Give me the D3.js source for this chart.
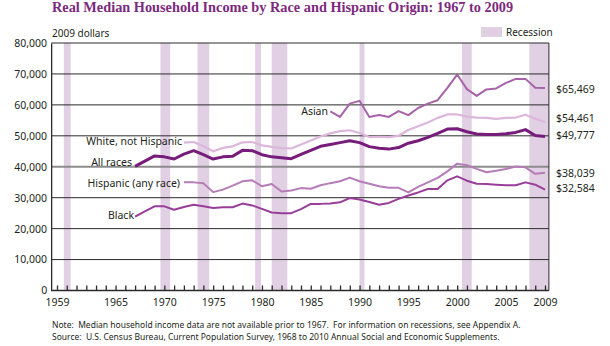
<!DOCTYPE html>
<html>
<head>
<meta charset="utf-8">
<script src="https://cdn.jsdelivr.net/npm/d3@7"></script>
<style>
  body { margin: 0; background: #fff; }
  text { font-family: "Noto Sans", "Open Sans", sans-serif; fill: #231f20; }
</style>
</head>
<body>
<div id="chart"></div>
<script>
// Chart size
var svgWidth = 610;
var svgHeight = 346;

// Values (2009 dollars)
var allRacesYears = d3.range(1967, 2010);
var allRaces = [40100, 41800, 43500, 43200, 42500, 44100, 45200, 43900, 42500, 43200,
  43400, 45300, 45200, 43900, 43200, 42900, 42600, 44000, 45300, 46600,
  47200, 47800, 48400, 47800, 46500, 46000, 45700, 46200, 47600, 48400,
  49500, 50800, 52200, 52300, 51300, 50600, 50400, 50400, 50700, 51100,
  52000, 50100, 49777];

var blackYears = d3.range(1967, 2010);
var black = [23900, 25600, 27200, 27200, 26100, 27000, 27700, 27200, 26700, 26900,
  26900, 28100, 27500, 26400, 25200, 25000, 25000, 26300, 28000, 28000,
  28100, 28500, 29900, 29400, 28600, 27700, 28300, 29600, 30700, 31700,
  32800, 32800, 35600, 36900, 35500, 34500, 34400, 34200, 34000, 34000,
  34950, 34200, 32584];

var whiteYears = d3.range(1972, 2010);
var white = [47800, 48000, 46600, 45000, 46100, 46600, 47900, 48000, 46900, 46400,
  46000, 45900, 47200, 48500, 49800, 50800, 51500, 51800, 50900, 49600,
  49700, 49600, 50000, 51900, 53100, 54300, 55800, 56900, 56900, 56200,
  55900, 55800, 55500, 55800, 55900, 56800, 55500, 54461];

var hispanicYears = d3.range(1972, 2010);
var hispanic = [34950, 34950, 34700, 31800, 32600, 33900, 35300, 35600, 33700, 34400,
  32000, 32300, 33100, 32900, 34000, 34700, 35300, 36500, 35300, 34500,
  33700, 33200, 33200, 31700, 33500, 34950, 36400, 38500, 41000, 40500,
  39300, 38200, 38700, 39300, 40100, 39800, 37700, 38039];

var asianYears = d3.range(1987, 2010);
var asian = [57900, 56100, 60400, 61300, 56100, 56700, 56100, 58000, 56700, 59000,
  60400, 61500, 65500, 69800, 65100, 62900, 65000, 65300, 67100, 68400,
  68400, 65500, 65469];

// Recession periods as drawn (start, end in years)
var recessions = [[1959.7, 1960.4], [1969.6, 1970.6], [1973.4, 1974.6], [1979.3, 1979.9],
  [1981.0, 1982.6], [1990.0, 1990.5], [2000.5, 2001.5], [2007.4, 2009.4]];

var yTicks = [0, 10000, 20000, 30000, 40000, 50000, 60000, 70000, 80000];
var xLabels = [1959, 1965, 1970, 1975, 1980, 1985, 1990, 1995, 2000, 2005, 2009];
var endLabels = ["$65,469", "$54,461", "$49,777", "$38,039", "$32,584"];

var svg = d3.select("#chart")
  .append("svg")
  .attr("width", svgWidth)
  .attr("height", svgHeight);

// Scales
var x = d3.scaleLinear().domain([1959, 2009]).range([57, 545]);
var y = d3.scaleLinear().domain([0, 80000]).range([290.5, 43]);
var left = x(1958.4), right = x(2009.4);

// Title
svg.append("text")
  .attr("x", 52).attr("y", 12)
  .style("font-family", "'Liberation Serif', serif")
  .style("font-weight", "bold")
  .style("font-size", "14.3px")
  .style("fill", "#7b2a7d")
  .text("Real Median Household Income by Race and Hispanic Origin: 1967 to 2009");

svg.append("text")
  .attr("x", 52).attr("y", 37)
  .style("font-size", "10px")
  .text("2009 dollars");

// Recession legend
svg.append("rect")
  .attr("x", 481).attr("y", 27).attr("width", 21).attr("height", 10)
  .attr("fill", "#e1d0e4");
svg.append("text")
  .attr("x", 506).attr("y", 36)
  .style("font-size", "10px")
  .text("Recession");

// Recession bands
svg.append("g").selectAll("rect")
  .data(recessions)
  .join("rect")
  .attr("x", d => x(d[0]))
  .attr("y", y(80000))
  .attr("width", d => x(d[1]) - x(d[0]))
  .attr("height", y(0) - y(80000))
  .attr("fill", "#e1d0e4");

// Grid lines
svg.append("g").selectAll("line")
  .data(yTicks.filter(d => d > 0))
  .join("line")
  .attr("x1", left).attr("x2", right)
  .attr("y1", d => y(d)).attr("y2", d => y(d))
  .attr("stroke", d => d == 40000 ? "#8c8c8c" : "#2b2b2b")
  .attr("stroke-width", d => d == 40000 ? 2 : 1);

// Frame right side
svg.append("line")
  .attr("x1", right).attr("x2", right)
  .attr("y1", y(80000)).attr("y2", y(0))
  .attr("stroke", "#2b2b2b");

// Y axis
var yAxis = svg.append("g")
  .attr("transform", `translate(${left},0)`)
  .call(d3.axisLeft(y).tickValues(yTicks).tickSize(0).tickPadding(4)
    .tickFormat(d3.format(",")));
yAxis.select(".domain").attr("stroke", "#2b2b2b").attr("stroke-width", 1.3);
yAxis.selectAll("text").style("font-size", "10.5px").style("font-family", "'Noto Sans', sans-serif").style("fill", "#231f20");

// X axis with inward ticks every year
var xAxis = svg.append("g")
  .attr("transform", `translate(0,${y(0)})`)
  .call(d3.axisBottom(x).tickValues(d3.range(1959, 2010)).tickSize(-5).tickPadding(8)
    .tickFormat(d => xLabels.includes(d) ? d : ""));
xAxis.select(".domain").attr("d", `M${left},0H${right}`).attr("stroke", "#2b2b2b").attr("stroke-width", 1.3);
xAxis.selectAll(".tick line").attr("stroke", "#2b2b2b").attr("stroke-width", 1.3);
xAxis.selectAll("text").style("font-size", "10.5px").style("font-family", "'Noto Sans', sans-serif").style("fill", "#231f20");

// Lines
var line = d3.line().x(d => x(d[0])).y(d => y(d[1]));
var series = [
  { years: whiteYears, values: white, color: "#dcb6db", width: 2.2 },
  { years: asianYears, values: asian, color: "#a663a8", width: 2 },
  { years: hispanicYears, values: hispanic, color: "#b57cb7", width: 2 },
  { years: blackYears, values: black, color: "#983e99", width: 2 },
  { years: allRacesYears, values: allRaces, color: "#771c7a", width: 3 }
];
svg.append("g").selectAll("path")
  .data(series)
  .join("path")
  .attr("d", s => line(s.years.map((yr, i) => [yr, s.values[i]])))
  .attr("fill", "none")
  .attr("stroke", s => s.color)
  .attr("stroke-width", s => s.width)
  .attr("stroke-linejoin", "round");

// Series labels
var labels = [
  ["Asian", 328, 115],
  ["White, not Hispanic", 182, 145],
  ["All races", 132, 166],
  ["Hispanic (any race)", 180, 187],
  ["Black", 134, 219]
];
svg.append("g").selectAll("text")
  .data(labels)
  .join("text")
  .attr("x", d => d[1]).attr("y", d => d[2])
  .attr("text-anchor", "end")
  .style("font-size", "10.5px")
  .text(d => d[0]);

// End values
var endY = [89, 118, 135, 173, 188];
svg.append("g").selectAll("text")
  .data(endLabels)
  .join("text")
  .attr("x", 556)
  .attr("y", (d, i) => endY[i] + 3.5)
  .style("font-size", "10.5px")
  .text(d => d);

// Notes
svg.append("text")
  .attr("x", 52).attr("y", 328)
  .style("font-size", "8.5px")
  .style("white-space", "pre")
  .text("Note:  Median household income data are not available prior to 1967.  For information on recessions, see Appendix A.");
svg.append("text")
  .attr("x", 52).attr("y", 340)
  .style("font-size", "8.5px")
  .style("white-space", "pre")
  .text("Source:  U.S. Census Bureau, Current Population Survey, 1968 to 2010 Annual Social and Economic Supplements.");
</script>
</body>
</html>
